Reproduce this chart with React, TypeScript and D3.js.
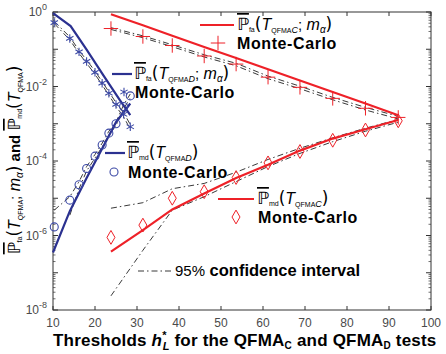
import React from 'react';
import * as d3 from 'd3';

// thresholds (x) used by the Monte-Carlo runs
const thrD = [10.3, 14, 16.2, 18, 20, 21.7, 23.3, 25, 26.8, 28.4];
const thrC = [23.8, 31.4, 38.4, 46, 53.6, 61.2, 68.8, 76.6, 84.4, 92.2];

// theory curves, QFMA_D
const faDx = [10, 14.2, 18, 22, 26, 28.4];
const faD = [0.93, 0.42, 0.098, 0.02, 0.0042, 0.0017];
const mdDx = [10, 14, 18, 22, 25, 28.4];
const mdD = [3.5e-7, 4.5e-6, 3.5e-5, 2.5e-4, 1.1e-3, 3.5e-3];

// theory curves, QFMA_C
const faC = [0.87, 0.44, 0.23, 0.115, 0.058, 0.029, 0.0145, 0.0071, 0.0035, 0.0017];
const mdC = [3.7e-7, 1.4e-6, 5.0e-6, 1.35e-5, 3.5e-5, 7.9e-5, 1.9e-4, 4.0e-4, 7.1e-4, 1.26e-3];

// monte-carlo estimates
const mcFaD = [0.52, 0.195, 0.085, 0.047, 0.024, 0.0123, 0.0066, 0.0033, 0.0018, 0.00083];
const mcMdD = [1.7e-6, 8.9e-6, 2.3e-5, 6.3e-5, 1.35e-4, 2.7e-4, 5.6e-4, 1.0e-3, 2.9e-3, 5.6e-3];
const mcFaC = [0.36, 0.22, 0.126, 0.066, 0.04, 0.0178, 0.0095, 0.0048, 0.0026, 0.00148];
const mcMdC = [8.9e-7, 1.9e-6, 1.0e-5, 1.5e-5, 3.6e-5, 8.9e-5, 1.8e-4, 3.6e-4, 6.8e-4, 1.2e-3];

// 95% confidence intervals
const ciFaDhi = [0.56, 0.214, 0.093, 0.051, 0.026, 0.0135, 0.0072, 0.0037, 0.002, 0.00095];
const ciFaDlo = [0.49, 0.178, 0.078, 0.042, 0.0214, 0.011, 0.0059, 0.0029, 0.00155, 0.00071];
const ciMdDhi = [4.8e-6, 1.1e-5, 2.8e-5, 7.1e-5, 1.5e-4, 3.0e-4, 6.3e-4, 1.1e-3, 3.2e-3, 6.3e-3];
const ciMdDlo = [null, 3.5e-6, 1.8e-5, 5.4e-5, 1.2e-4, 2.4e-4, 5.0e-4, 8.9e-4, 2.5e-3, 5.0e-3];
const ciFaChi = [0.38, 0.229, 0.132, 0.071, 0.042, 0.019, 0.0102, 0.0051, 0.00275, 0.00158];
const ciFaClo = [0.34, 0.204, 0.117, 0.062, 0.036, 0.0162, 0.0087, 0.0044, 0.00234, 0.00135];
const ciMdChi = [5.4e-6, 7.6e-6, 1.8e-5, 2.5e-5, 5.0e-5, 1.1e-4, 2.2e-4, 4.2e-4, 7.6e-4, 1.3e-3];
const ciMdClo = [2.4e-8, 4.0e-7, 4.8e-6, 1.1e-5, 2.8e-5, 7.1e-5, 1.6e-4, 3.3e-4, 6.3e-4, 1.1e-3];

const xTicks = [10, 20, 30, 40, 50, 60, 70, 80, 90, 100];
const yExps = [0, -2, -4, -6, -8];

const RED = '#ee2128';
const BLUE = '#2b3190';
const MBLUE = '#3d4aa6';
const GRAY = '#4a4a4a';

type Seg = { t: string; size?: number; it?: boolean; bold?: boolean; sub?: number; font?: string; over?: boolean; dx?: number };

const Rich = ({ x, y, segs, anchor = 'start', spacing = 0 }: { x: number; y: number; segs: Seg[]; anchor?: string; spacing?: number }) => {
  let prev = 0;
  return (
    <text x={x} y={y} textAnchor={anchor} fontFamily="Liberation Sans, sans-serif" fontSize={15} fill="#000" letterSpacing={spacing}>
      {segs.map((s, i) => {
        const cur = s.sub ?? 0;
        const dy = cur - prev;
        prev = cur;
        return (
          <tspan key={i} dy={dy} dx={s.dx ?? 0} fontSize={s.size ?? 15} fontStyle={s.it ? 'italic' : 'normal'}
            fontWeight={s.bold ? 'bold' : 'normal'} fontFamily={s.font}
            style={s.over ? { textDecoration: 'overline' } : undefined}>{s.t}</tspan>
        );
      })}
    </text>
  );
};

const P = (sub: string): Seg[] => [
  { t: 'ℙ', size: 17, font: 'DejaVu Sans', over: true },
  { t: sub, size: 7, sub: 2 },
  { t: '(', size: 17, font: 'DejaVu Sans', sub: 0 },
  { t: 'T', size: 16, it: true },
];
const tail = (letter: string, withM: boolean): Seg[] => {
  const s: Seg[] = [{ t: 'QFMA', size: 7, sub: 2.5 }];
  if (letter) s.push({ t: letter, size: 9, it: true, sub: 2.5 });
  if (withM) {
    s.push({ t: ';', size: 15, sub: 0 });
    s.push({ t: ' m', size: 16, it: true });
    s.push({ t: 'α', size: 10, it: true, sub: 2.5 });
  }
  s.push({ t: ')', size: 17, font: 'DejaVu Sans', sub: 0 });
  return s;
};

const MC: Seg[] = [{ t: 'Monte-Carlo', bold: true, size: 16 }];

const App = () => {
  const W = 446, H = 354;
  const x = d3.scaleLinear().domain([10, 100]).range([53, 431]);
  const y = d3.scaleLog().domain([1e-8, 1]).range([310, 12]);
  const line = d3.line<[number, number | null]>()
    .defined(d => d[1] != null)
    .x(d => x(d[0]))
    .y(d => y(d[1] as number));
  const zip = (xs: number[], ys: (number | null)[]) => xs.map((v, i) => [v, ys[i]] as [number, number | null]);

  const star = d3.symbol(d3.symbolAsterisk, 50)();
  const plus = d3.symbol(d3.symbolPlus, 70)();
  const diamond = d3.symbol(d3.symbolDiamond, 55)();

  const minor: number[] = [];
  for (let k = -8; k < 0; k++) for (let m = 2; m <= 9; m++) minor.push(m * Math.pow(10, k));
  const major = d3.range(-8, 1).map(k => Math.pow(10, k));

  const ci = { fill: 'none', stroke: '#222', strokeWidth: 0.9, strokeDasharray: '6,3,1.5,3' };

  return (
    <svg width={W} height={H} style={{ position: 'absolute', left: 0, top: 0, background: '#fff' }}>
      {/* frame */}
      <rect x={53} y={12} width={378} height={298} fill="none" stroke="#333" strokeWidth={1} />
      {xTicks.map(t => (
        <g key={t}>
          <line x1={x(t)} x2={x(t)} y1={310} y2={306} stroke="#333" />
          <line x1={x(t)} x2={x(t)} y1={12} y2={16} stroke="#333" />
          <text x={x(t)} y={327} textAnchor="middle" fontFamily="Liberation Sans, sans-serif" fontSize={12} fill={GRAY}>{t}</text>
        </g>
      ))}
      {major.map((v, i) => (
        <g key={'M' + i}>
          <line x1={53} x2={58} y1={y(v)} y2={y(v)} stroke="#333" />
          <line x1={431} x2={426} y1={y(v)} y2={y(v)} stroke="#333" />
        </g>
      ))}
      {minor.map((v, i) => (
        <g key={'m' + i}>
          <line x1={53} x2={55.5} y1={y(v)} y2={y(v)} stroke="#333" strokeWidth={0.7} />
          <line x1={431} x2={428.5} y1={y(v)} y2={y(v)} stroke="#333" strokeWidth={0.7} />
        </g>
      ))}
      {yExps.map(e => (
        <text key={e} x={47} y={y(Math.pow(10, e)) + 4} textAnchor="end" fontFamily="Liberation Sans, sans-serif" fontSize={12} fill={GRAY}>
          10<tspan dy={-6} fontSize={9}>{e === 0 ? '0' : e}</tspan>
        </text>
      ))}

      {/* confidence intervals */}
      <path d={line(zip(thrD, ciFaDhi)) ?? ''} {...ci} />
      <path d={line(zip(thrD, ciFaDlo)) ?? ''} {...ci} />
      <path d={line(zip(thrD, ciMdDhi)) ?? ''} {...ci} />
      <path d={line(zip(thrD, ciMdDlo)) ?? ''} {...ci} />
      <path d={line(zip(thrC, ciFaChi)) ?? ''} {...ci} />
      <path d={line(zip(thrC, ciFaClo)) ?? ''} {...ci} />
      <path d={line(zip(thrC, ciMdChi)) ?? ''} {...ci} />
      <path d={line(zip(thrC, ciMdClo)) ?? ''} {...ci} />

      {/* theory */}
      <path d={line(zip(faDx, faD)) ?? ''} fill="none" stroke={BLUE} strokeWidth={2.2} />
      <path d={line(zip(mdDx, mdD)) ?? ''} fill="none" stroke={BLUE} strokeWidth={2.2} />
      <path d={line(zip(thrC, faC)) ?? ''} fill="none" stroke={RED} strokeWidth={2.2} />
      <path d={line(zip(thrC, mdC)) ?? ''} fill="none" stroke={RED} strokeWidth={2.2} />

      {/* monte-carlo */}
      {thrD.map((t, i) => (
        <path key={'s' + i} d={star ?? ''} transform={`translate(${x(t)},${y(mcFaD[i])})`} fill="none" stroke={MBLUE} strokeWidth={1.1} />
      ))}
      {thrD.map((t, i) => (
        <circle key={'c' + i} cx={x(t)} cy={y(mcMdD[i])} r={4} fill="none" stroke={MBLUE} strokeWidth={1.1} />
      ))}
      {thrC.map((t, i) => (
        <path key={'p' + i} d={plus ?? ''} transform={`translate(${x(t)},${y(mcFaC[i])})`} fill="none" stroke={RED} strokeWidth={1} />
      ))}
      {thrC.map((t, i) => (
        <path key={'d' + i} d={diamond ?? ''} transform={`translate(${x(t)},${y(mcMdC[i])})`} fill="none" stroke={RED} strokeWidth={1} />
      ))}

      {/* legends */}
      <line x1={200} x2={234} y1={25} y2={25} stroke={RED} strokeWidth={2.2} />
      <Rich x={237} y={30} segs={[...P('fa'), ...tail('C', true)]} />
      <path d={plus ?? ''} transform="translate(218,43)" fill="none" stroke={RED} />
      <Rich x={237} y={49} spacing={0.6} segs={MC} />

      <line x1={112} x2={132} y1={74} y2={74} stroke={BLUE} strokeWidth={2.2} />
      <Rich x={134} y={79} segs={[...P('fa'), ...tail('D', true)]} />
      <path d={star ?? ''} transform="translate(124,92)" fill="none" stroke={MBLUE} strokeWidth={1.1} />
      <Rich x={135} y={98} spacing={0.6} segs={MC} />

      <line x1={105} x2={125} y1={153} y2={153} stroke={BLUE} strokeWidth={2.2} />
      <Rich x={127} y={158} segs={[...P('md'), ...tail('D', false)]} />
      <circle cx={114} cy={172} r={4} fill="none" stroke={MBLUE} strokeWidth={1.1} />
      <Rich x={128} y={178} spacing={0.6} segs={MC} />

      <line x1={218} x2={254} y1={199} y2={199} stroke={RED} strokeWidth={2.2} />
      <Rich x={257} y={204} segs={[...P('md'), ...tail('C', false)]} />
      <path d={diamond ?? ''} transform="translate(236,217)" fill="none" stroke={RED} />
      <Rich x={258} y={223} spacing={0.6} segs={MC} />

      <line x1={138} x2={173} y1={271} y2={271} {...ci} />
      <Rich x={175} y={276} segs={[{ t: '95%', size: 15 }, { t: ' confidence interval', bold: true, size: 16.5 }]} />

      {/* axis titles */}
      <Rich x={53} y={346} spacing={0.2} segs={[
        { t: 'Thresholds ', bold: true, size: 17 },
        { t: 'h', bold: true, it: true, size: 17 },
        { t: '*', size: 11, bold: true, sub: -7 },
        { t: 'L', size: 11, it: true, bold: true, sub: 4, dx: -4 },
        { t: ' for the QFMA', bold: true, size: 17, sub: 0 },
        { t: 'C', size: 10, bold: true, sub: 3 },
        { t: ' and QFMA', bold: true, size: 17, sub: 0 },
        { t: 'D', size: 10, bold: true, sub: 3 },
        { t: ' tests', bold: true, size: 17, sub: 0 },
      ]} />
      <g transform="translate(20,160) rotate(-90)">
        <Rich x={0} y={0} anchor="middle" segs={[
          ...P('fa'), ...tail('', true),
          { t: ' and ', bold: true, sub: 0 },
          ...P('md'), ...tail('', false),
        ]} />
      </g>
    </svg>
  );
};

export default App;
